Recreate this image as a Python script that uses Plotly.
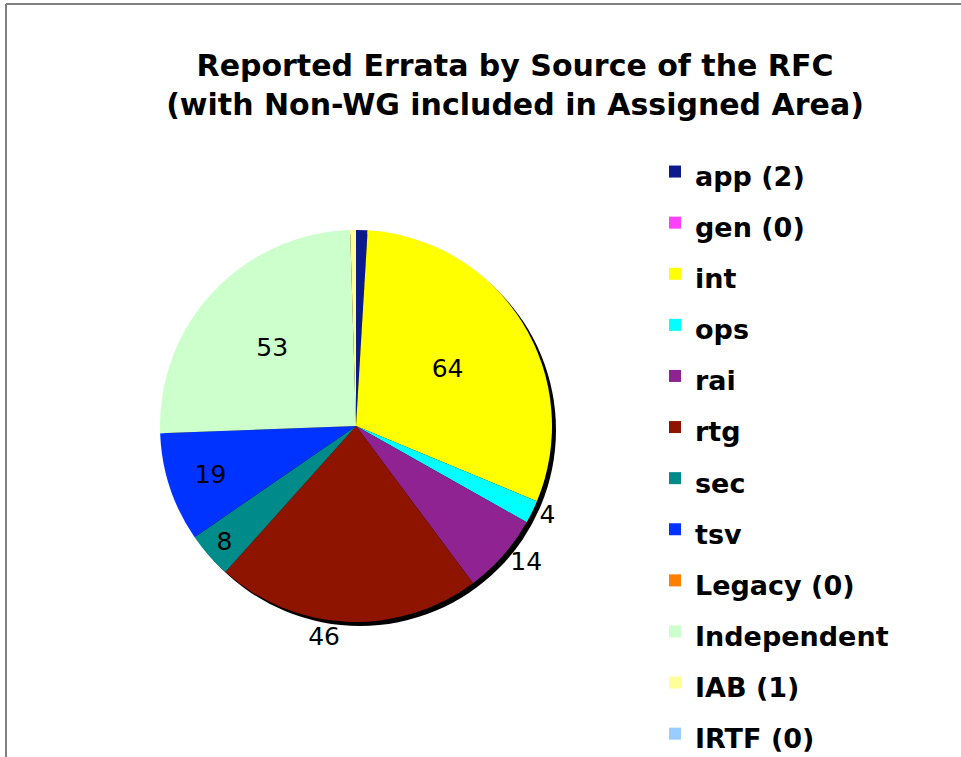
import plotly.graph_objects as go

# ---- data ----
categories = ["app (2)", "gen (0)", "int", "ops", "rai", "rtg", "sec", "tsv",
              "Legacy (0)", "Independent", "IAB (1)", "IRTF (0)"]
values = [2, 0, 64, 4, 14, 46, 8, 19, 0, 53, 1, 0]
colors = ["#0B1A8C", "#FF40FF", "#FFFF00", "#00FFFF", "#8E2391", "#8E1400",
          "#008B8B", "#0033FF", "#FF7F00", "#CCFFCC", "#FFFF99", "#99CCFF"]
text_pos = ["inside", "inside", "inside", "outside", "outside", "outside",
            "inside", "inside", "inside", "inside", "inside", "inside"]
slice_text = [str(v) if v > 2 else "" for v in values]

W, H = 961, 757
cx, cy, R = 356, 426, 196  # pie centre / radius in pixels (from top-left)

dom_x = [(cx - R) / W, (cx + R) / W]
dom_y = [(H - cy - R) / H, (H - cy + R) / H]

legend_labels = ['<span style="font-size:27px">%s</span>' % c for c in categories]

fig = go.Figure()
fig.add_trace(go.Pie(
    labels=legend_labels,
    values=values,
    text=slice_text,
    textinfo="text",
    textposition=text_pos,
    insidetextorientation="horizontal",
    textfont=dict(family="DejaVu Sans", size=25, color="black"),
    marker=dict(colors=colors, line=dict(width=0)),
    sort=False,
    direction="clockwise",
    rotation=0,
    domain=dict(x=dom_x, y=dom_y),
    hoverinfo="label+value",
))

# shadow
off = 4
fig.add_shape(type="circle", xref="paper", yref="paper", layer="below",
              x0=(cx - R + off) / W, x1=(cx + R + off) / W,
              y0=(H - cy - R - off) / H, y1=(H - cy + R - off) / H,
              fillcolor="black", line=dict(width=0))
# frame
fig.add_shape(type="line", xref="paper", yref="paper", x0=6 / W, x1=1, y0=1 - 4 / H, y1=1 - 4 / H,
              line=dict(color="#808080", width=2))
fig.add_shape(type="line", xref="paper", yref="paper", x0=6 / W, x1=6 / W, y0=0, y1=1 - 4 / H,
              line=dict(color="#808080", width=2))

fig.update_layout(
    width=W, height=H,
    margin=dict(l=0, r=0, t=0, b=0, autoexpand=False),
    paper_bgcolor="white",
    title=dict(
        text="<b>Reported Errata by Source of the RFC<br>(with Non-WG included in Assigned Area)</b>",
        x=515 / W, xanchor="center",
        y=1 - 76 / H, yanchor="top", yref="container",
        font=dict(family="DejaVu Sans", size=30, color="black"),
    ),
    legend=dict(
        x=655 / W, xanchor="left",
        y=1 - 141 / H, yanchor="top",
        font=dict(family="DejaVu Sans", size=37, color="black", weight="bold"),
        bgcolor="rgba(0,0,0,0)",
        traceorder="normal",
    ),
    showlegend=True,
)

fig.write_html("out.html", config={"displayModeBar": False},
               post_script="document.body.style.margin='0';")
